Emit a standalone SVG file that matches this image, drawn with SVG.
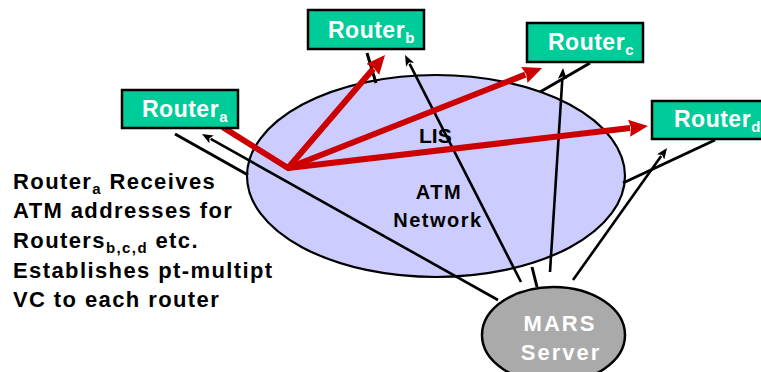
<svg xmlns="http://www.w3.org/2000/svg" width="761" height="372" viewBox="0 0 761 372">
  <style>
    text { font-family: "Liberation Sans", Arial, sans-serif; font-weight: bold; }
    .router rect { fill: #00cc99; stroke: #000; stroke-width: 2.5; }
    .rlabel { fill: #fff; font-size: 23px; letter-spacing: 0.5px; }
    .sub { font-size: 15px; }
    .link { stroke: #000; stroke-width: 3; fill: none; }
    .query { stroke: #000; stroke-width: 2.6; fill: none; marker-end: url(#blackHead); }
    .vc { stroke: #cc0000; stroke-width: 6; fill: none; stroke-linecap: round; }
    .vcArrow { stroke: #cc0000; stroke-width: 6; fill: none; marker-end: url(#redHead); }
    .note { fill: #000; font-size: 22px; letter-spacing: 1.4px; }
    .cloudText { fill: #000; font-size: 20px; letter-spacing: 1.5px; }
    .marsText { fill: #fff; font-size: 22px; letter-spacing: 2px; }
  </style>
  <defs>
    <marker id="blackHead" markerUnits="userSpaceOnUse" viewBox="0 0 11 9" markerWidth="11" markerHeight="9" refX="1" refY="4.5" orient="auto">
      <path d="M0,0 L11,4.5 L0,9 L2.5,4.5 z" fill="#000"/>
    </marker>
    <marker id="redHead" markerUnits="userSpaceOnUse" viewBox="0 0 19 17" markerWidth="19" markerHeight="17" refX="1" refY="8.5" orient="auto">
      <path d="M0,0 L19,8.5 L0,17 L2,8.5 z" fill="#cc0000"/>
    </marker>
  </defs>

  <!-- ATM network cloud (LIS) -->
  <g id="atm-network">
    <ellipse cx="436" cy="176" rx="189" ry="101" fill="#ccccff" stroke="#000" stroke-width="2.2"/>
  </g>

  <!-- router attachments and MARS query paths -->
  <g id="connectors">
    <line class="link" x1="175" y1="134" x2="248" y2="175"/>
    <line class="link" x1="367" y1="53" x2="376" y2="83"/>
    <line class="link" x1="590" y1="63" x2="540" y2="92"/>
    <line class="link" x1="715" y1="140" x2="623" y2="183"/>
    <line class="link" x1="532" y1="267" x2="537" y2="287"/>

    <line class="query" x1="498" y1="300" x2="210.7" y2="138.9"/>
    <line class="query" x1="521" y1="282" x2="409.6" y2="63.9"/>
    <line class="query" x1="550" y1="272" x2="562.4" y2="78"/>
    <line class="query" x1="573" y1="280" x2="661.2" y2="156.1"/>

    <!-- point-to-multipoint VC from Router a -->
    <line class="vc" x1="224" y1="128" x2="288" y2="168"/>
    <line class="vcArrow" x1="288" y1="168" x2="373.3" y2="68.7"/>
    <line class="vcArrow" x1="288" y1="168" x2="525.3" y2="74.6"/>
    <line class="vcArrow" x1="288" y1="168" x2="630.1" y2="128.1"/>
  </g>

  <g id="router-a" class="router">
    <rect x="122" y="90" width="116" height="38"/>
    <text class="rlabel" x="142" y="117">Router<tspan class="sub" dy="5">a</tspan></text>
  </g>
  <g id="router-b" class="router">
    <rect x="308" y="10" width="116" height="39"/>
    <text class="rlabel" x="328" y="38">Router<tspan class="sub" dy="5">b</tspan></text>
  </g>
  <g id="router-c" class="router">
    <rect x="527" y="23" width="116" height="39"/>
    <text class="rlabel" x="548" y="50">Router<tspan class="sub" dy="5">c</tspan></text>
  </g>
  <g id="router-d" class="router">
    <rect x="652" y="101" width="116" height="38"/>
    <text class="rlabel" x="674" y="127">Router<tspan class="sub" dy="5">d</tspan></text>
  </g>

  <g id="mars-server">
    <ellipse cx="553.5" cy="335" rx="71.5" ry="48" fill="#aaaaaa" stroke="#000" stroke-width="2.5"/>
    <text class="marsText" x="560" y="331" text-anchor="middle">MARS</text>
    <text class="marsText" x="561" y="360" text-anchor="middle">Server</text>
  </g>

  <g id="cloud-labels">
    <text class="cloudText" x="419" y="143" style="font-size:21px;letter-spacing:0">LIS</text>
    <text class="cloudText" x="439" y="199" text-anchor="middle">ATM</text>
    <text class="cloudText" x="438" y="227" text-anchor="middle">Network</text>
  </g>

  <g id="note">
    <text class="note" x="13" y="188.5">Router<tspan class="sub" dy="5">a</tspan><tspan dy="-5"> Receives</tspan></text>
    <text class="note" x="13" y="218">ATM addresses for</text>
    <text class="note" x="13" y="248">Routers<tspan class="sub" dy="5">b,c,d</tspan><tspan dy="-5"> etc.</tspan></text>
    <text class="note" x="13" y="278">Establishes pt-multipt</text>
    <text class="note" x="13" y="307">VC to each router</text>
  </g>
</svg>
